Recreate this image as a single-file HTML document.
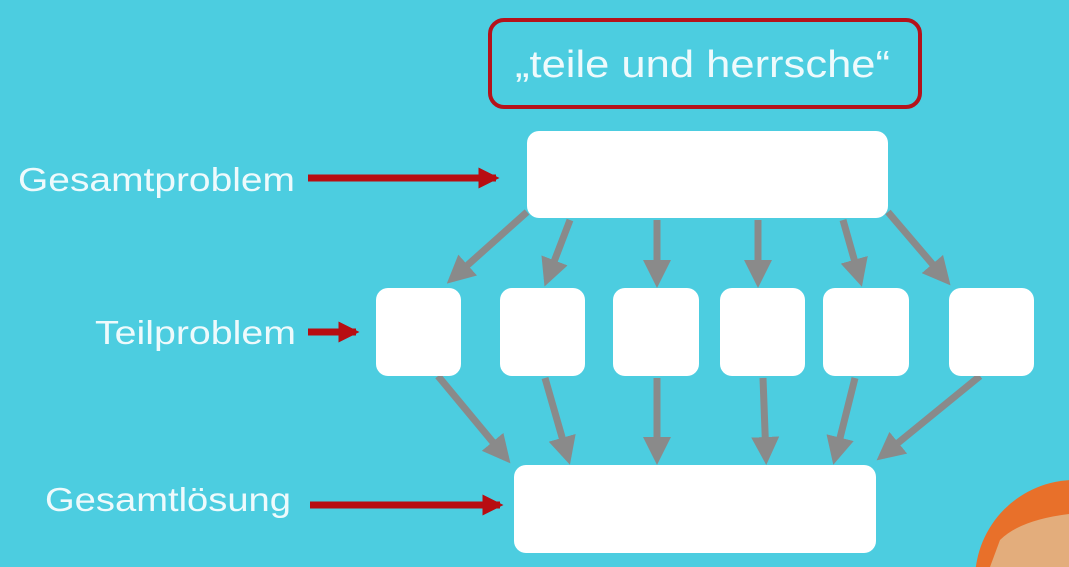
<!DOCTYPE html>
<html><head><meta charset="utf-8"><style>
html,body{margin:0;padding:0;width:1069px;height:567px;overflow:hidden;background:#4ccde0}
svg{display:block}
text{font-family:"Liberation Sans",sans-serif;fill:#eefafc}
</style></head><body>
<svg width="1069" height="567" viewBox="0 0 1069 567">
<defs>
<marker id="g" markerWidth="4" markerHeight="4" refX="3" refY="2" orient="auto" markerUnits="strokeWidth"><path d="M0,0 L4,2 L0,4 z" fill="#8a8a8a"/></marker>
<marker id="r" markerWidth="3" markerHeight="3" refX="2.5" refY="1.5" orient="auto" markerUnits="strokeWidth"><path d="M0,0 L3,1.5 L0,3 z" fill="#b80d12"/></marker>
<clipPath id="c"><rect width="1069" height="567"/></clipPath>
</defs>
<g clip-path="url(#c)">
<rect x="490" y="20" width="430" height="87" rx="14" fill="none" stroke="#b5121b" stroke-width="4"/>
<text x="515" y="77" font-size="38" textLength="375" lengthAdjust="spacingAndGlyphs" fill="#fff">„teile und herrsche“</text>
<g stroke="#8a8a8a" stroke-width="7" marker-end="url(#g)">
<line x1="527" y1="212" x2="452" y2="279"/>
<line x1="570" y1="220" x2="547" y2="280"/>
<line x1="657" y1="220" x2="657" y2="281"/>
<line x1="758" y1="220" x2="758" y2="281"/>
<line x1="843" y1="220" x2="860" y2="280"/>
<line x1="888" y1="212" x2="946" y2="280"/>
<line x1="438" y1="376" x2="506" y2="458"/>
<line x1="545" y1="378" x2="568" y2="458"/>
<line x1="657" y1="378" x2="657" y2="458"/>
<line x1="763" y1="378" x2="766" y2="458"/>
<line x1="855" y1="378" x2="835" y2="458"/>
<line x1="980" y1="376" x2="882" y2="456"/>
</g>
<g fill="#fff">
<rect x="527" y="131" width="361" height="87" rx="12"/>
<rect x="376" y="288" width="85" height="88" rx="12"/>
<rect x="500" y="288" width="85" height="88" rx="12"/>
<rect x="613" y="288" width="86" height="88" rx="12"/>
<rect x="720" y="288" width="85" height="88" rx="12"/>
<rect x="823" y="288" width="86" height="88" rx="12"/>
<rect x="949" y="288" width="85" height="88" rx="12"/>
<rect x="514" y="465" width="362" height="88" rx="12"/>
</g>
<g stroke="#b80d12" stroke-width="7" marker-end="url(#r)">
<line x1="308" y1="178" x2="496" y2="178"/>
<line x1="308" y1="332" x2="356" y2="332"/>
<line x1="310" y1="505" x2="500" y2="505"/>
</g>
<text x="18" y="191" font-size="33" textLength="277" lengthAdjust="spacingAndGlyphs">Gesamtproblem</text>
<text x="95" y="344" font-size="33" textLength="201" lengthAdjust="spacingAndGlyphs">Teilproblem</text>
<text x="45" y="511" font-size="33" textLength="246" lengthAdjust="spacingAndGlyphs">Gesamtlösung</text>
<circle cx="1075" cy="580" r="100" fill="#e8702a"/>
<path d="M990,567 L1000,540 Q1020,520 1069,514 L1069,567 z" fill="#e3ad7c"/>
</g>
</svg>
</body></html>
